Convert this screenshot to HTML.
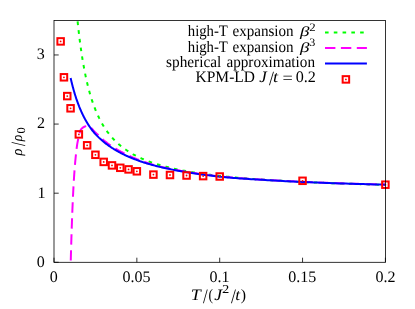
<!DOCTYPE html>
<html><head><meta charset="utf-8"><title>plot</title>
<style>html,body{margin:0;padding:0;background:#fff}body{width:415px;height:309px;overflow:hidden;font-family:"Liberation Serif",serif}</style>
</head><body>
<svg width="415" height="309" viewBox="0 0 415 309" style="display:block;will-change:transform">
<rect width="415" height="309" fill="#ffffff"/>
<defs><clipPath id="c"><rect x="54.00" y="20.40" width="331.40" height="241.90"/></clipPath></defs>
<path d="M54.00,262.30 h4.7 M54.00,193.19 h4.7 M54.00,124.07 h4.7 M54.00,54.96 h4.7 M54.00,262.30 v-4.6 M136.85,262.30 v-4.6 M219.70,262.30 v-4.6 M302.55,262.30 v-4.6 M385.40,262.30 v-4.6" stroke="#000" stroke-width="0.8" fill="none"/>
<g clip-path="url(#c)" fill="none" stroke-width="2">
<path d="M77.61,21.46 L78.64,30.98 L79.67,39.55 L80.69,47.31 L81.72,54.36 L82.75,60.80 L83.78,66.69 L84.81,72.11 L85.83,77.09 L86.86,81.71 L87.89,85.98 L88.92,89.95 L89.95,93.65 L90.97,97.11 L92.00,100.34 L93.03,103.36 L94.06,106.21 L95.09,108.88 L96.11,111.40 L97.14,113.78 L98.17,116.03 L99.20,118.16 L100.23,120.17 L101.25,122.09 L102.28,123.91 L103.31,125.64 L104.34,127.29 L105.37,128.86 L106.39,130.36 L107.42,131.80 L108.45,133.17 L109.48,134.48 L110.51,135.74 L111.53,136.95 L112.56,138.10 L113.59,139.22 L114.62,140.29 L115.65,141.31 L116.67,142.30 L117.70,143.26 L118.73,144.18 L119.76,145.06 L120.79,145.92 L121.81,146.75 L122.84,147.54 L123.87,148.32 L124.90,149.06 L125.93,149.79 L126.95,150.48 L127.98,151.16 L129.01,151.82 L130.04,152.46 L131.07,153.07 L132.09,153.67 L133.12,154.26 L134.15,154.82 L135.18,155.37 L136.21,155.91 L137.23,156.43 L138.26,156.93 L139.29,157.42 L140.32,157.90 L141.35,158.37 L142.37,158.82 L143.40,159.27 L144.43,159.70 L145.46,160.12 L146.49,160.53 L147.51,160.93 L148.54,161.32 L149.57,161.70 L150.60,162.07 L151.63,162.44 L152.66,162.80 L153.68,163.14 L154.71,163.48 L155.74,163.82 L156.77,164.14 L157.80,164.46 L158.82,164.77 L159.85,165.07 L160.88,165.37 L161.91,165.66 L162.94,165.95 L163.96,166.23 L164.99,166.51 L166.02,166.77 L167.05,167.04 L168.08,167.30 L169.10,167.55 L170.13,167.80 L171.16,168.04 L172.19,168.28 L173.22,168.52 L174.24,168.75 L175.27,168.97 L176.30,169.20 L177.33,169.41 L178.36,169.63 L179.38,169.84 L180.41,170.05 L181.44,170.25 L182.47,170.45 L183.50,170.64 L184.52,170.84 L185.55,171.03 L186.58,171.21 L187.61,171.40 L188.64,171.58 L189.66,171.75 L190.69,171.93 L191.72,172.10 L192.75,172.27 L193.78,172.43 L194.80,172.60 L195.83,172.76 L196.86,172.92 L197.89,173.07 L198.92,173.23 L199.94,173.38 L200.97,173.53 L202.00,173.68 L203.03,173.82 L204.06,173.96 L205.08,174.10 L206.11,174.24 L207.14,174.38 L208.17,174.51 L209.20,174.65 L210.22,174.78 L211.25,174.91 L212.28,175.03 L213.31,175.16 L214.34,175.28 L215.36,175.41 L216.39,175.53 L217.42,175.64 L218.45,175.76 L219.48,175.88 L220.50,175.99 L221.53,176.10 L222.56,176.22 L223.59,176.33 L224.62,176.43 L225.64,176.54 L226.67,176.65 L227.70,176.75 L228.73,176.85 L229.76,176.96 L230.78,177.06 L231.81,177.16 L232.84,177.25 L233.87,177.35 L234.90,177.45 L235.93,177.54 L236.95,177.63 L237.98,177.73 L239.01,177.82 L240.04,177.91 L241.07,178.00 L242.09,178.09 L243.12,178.17 L244.15,178.26 L245.18,178.34 L246.21,178.43 L247.23,178.51 L248.26,178.59 L249.29,178.67 L250.32,178.76 L251.35,178.83 L252.37,178.91 L253.40,178.99 L254.43,179.07 L255.46,179.14 L256.49,179.22 L257.51,179.29 L258.54,179.37 L259.57,179.44 L260.60,179.51 L261.63,179.59 L262.65,179.66 L263.68,179.73 L264.71,179.80 L265.74,179.86 L266.77,179.93 L267.79,180.00 L268.82,180.07 L269.85,180.13 L270.88,180.20 L271.91,180.26 L272.93,180.32 L273.96,180.39 L274.99,180.45 L276.02,180.51 L277.05,180.57 L278.07,180.64 L279.10,180.70 L280.13,180.76 L281.16,180.81 L282.19,180.87 L283.21,180.93 L284.24,180.99 L285.27,181.05 L286.30,181.10 L287.33,181.16 L288.35,181.21 L289.38,181.27 L290.41,181.32 L291.44,181.38 L292.47,181.43 L293.49,181.48 L294.52,181.54 L295.55,181.59 L296.58,181.64 L297.61,181.69 L298.63,181.74 L299.66,181.79 L300.69,181.84 L301.72,181.89 L302.75,181.94 L303.77,181.99 L304.80,182.03 L305.83,182.08 L306.86,182.13 L307.89,182.18 L308.91,182.22 L309.94,182.27 L310.97,182.31 L312.00,182.36 L313.03,182.40 L314.06,182.45 L315.08,182.49 L316.11,182.54 L317.14,182.58 L318.17,182.62 L319.20,182.67 L320.22,182.71 L321.25,182.75 L322.28,182.79 L323.31,182.83 L324.34,182.88 L325.36,182.92 L326.39,182.96 L327.42,183.00 L328.45,183.04 L329.48,183.08 L330.50,183.12 L331.53,183.15 L332.56,183.19 L333.59,183.23 L334.62,183.27 L335.64,183.31 L336.67,183.34 L337.70,183.38 L338.73,183.42 L339.76,183.45 L340.78,183.49 L341.81,183.53 L342.84,183.56 L343.87,183.60 L344.90,183.63 L345.92,183.67 L346.95,183.70 L347.98,183.74 L349.01,183.77 L350.04,183.81 L351.06,183.84 L352.09,183.87 L353.12,183.91 L354.15,183.94 L355.18,183.97 L356.20,184.01 L357.23,184.04 L358.26,184.07 L359.29,184.10 L360.32,184.13 L361.34,184.16 L362.37,184.20 L363.40,184.23 L364.43,184.26 L365.46,184.29 L366.48,184.32 L367.51,184.35 L368.54,184.38 L369.57,184.41 L370.60,184.44 L371.62,184.47 L372.65,184.50 L373.68,184.53 L374.71,184.55 L375.74,184.58 L376.76,184.61 L377.79,184.64 L378.82,184.67 L379.85,184.70 L380.88,184.72 L381.90,184.75 L382.93,184.78 L383.96,184.81 L384.99,184.83" stroke="#00ff00" stroke-dasharray="3.6 5.19" stroke-dashoffset="0"/>
<path d="M70.78,260.60 L70.80,259.70 L70.82,258.80 L70.84,257.89 L70.86,256.99 L70.89,256.09 L70.91,255.19 L70.94,254.28 L70.96,253.38 L70.99,252.48 L71.01,251.58 L71.04,250.67 L71.06,249.77 L71.09,248.87 L71.12,247.97 L71.14,247.06 L71.17,246.16 L71.19,245.26 L71.22,244.36 L71.24,243.46 L71.27,242.55 L71.30,241.65 L71.32,240.75 L71.35,239.85 L71.38,238.94 L71.40,238.04 L71.43,237.14 L71.46,236.24 L71.49,235.33 L71.52,234.43 L71.55,233.53 L71.57,232.63 L71.60,231.73 L71.63,230.82 L71.66,229.92 L71.69,229.02 L71.72,228.12 L71.75,227.22 L71.78,226.31 L71.82,225.41 L71.85,224.51 L71.88,223.61 L71.91,222.70 L71.94,221.80 L71.97,220.90 L72.01,220.00 L72.04,219.10 L72.07,218.19 L72.11,217.29 L72.14,216.39 L72.18,215.49 L72.21,214.59 L72.24,213.68 L72.28,212.78 L72.32,211.88 L72.35,210.98 L72.39,210.08 L72.42,209.17 L72.46,208.27 L72.50,207.37 L72.54,206.47 L72.58,205.57 L72.61,204.66 L72.65,203.76 L72.69,202.86 L72.73,201.96 L72.77,201.06 L72.81,200.16 L72.86,199.25 L72.90,198.35 L72.94,197.45 L72.98,196.55 L73.03,195.65 L73.07,194.75 L73.11,193.84 L73.16,192.94 L73.21,192.04 L73.25,191.14 L73.30,190.24 L73.35,189.34 L73.39,188.44 L73.44,187.53 L73.49,186.63 L73.54,185.73 L73.59,184.83 L73.65,183.93 L73.70,183.03 L73.75,182.13 L73.80,181.23 L73.86,180.32 L73.91,179.42 L73.97,178.52 L74.03,177.62 L74.08,176.72 L74.14,175.82 L74.20,174.92 L74.26,174.02 L74.33,173.12 L74.39,172.22 L74.45,171.32 L74.52,170.41 L74.59,169.51 L74.65,168.61 L74.72,167.71 L74.80,166.82 L74.87,165.92 L74.94,165.02 L75.02,164.12 L75.10,163.22 L75.18,162.32 L75.26,161.42 L75.34,160.53 L75.43,159.63 L75.51,158.73 L75.60,157.83 L75.69,156.93 L75.79,156.04 L75.88,155.14 L75.98,154.24 L76.07,153.34 L76.17,152.44 L76.27,151.55 L76.38,150.65 L76.48,149.75 L76.59,148.85 L76.70,147.95 L76.82,147.05 L76.94,146.16 L77.06,145.26 L77.20,144.37 L77.34,143.47 L77.49,142.58 L77.65,141.70 L77.82,140.82 L78.00,139.94 L78.19,139.06 L78.39,138.19 L78.61,137.31 L78.82,136.44 L79.04,135.57 L79.26,134.69 L79.48,133.80 L79.69,132.91 L79.91,132.02 L80.16,131.14 L80.48,130.30 L80.90,129.52 L81.45,128.80 L82.11,128.17 L82.83,127.61 L83.60,127.13 L84.41,126.73 L85.25,126.39 L86.13,126.11 L87.03,125.94 L87.92,125.94 L88.78,126.17 L89.58,126.60 L90.33,127.16 L91.02,127.77 L91.66,128.42 L92.27,129.09 L92.86,129.76 L93.45,130.43 L94.06,131.09 L94.68,131.74 L95.33,132.37 L95.98,132.99 L96.64,133.61 L97.30,134.23 L97.96,134.85 L98.61,135.48 L99.26,136.11 L99.91,136.74 L100.56,137.37 L101.21,137.99 L101.87,138.61 L102.53,139.21 L103.21,139.81 L103.90,140.40 L104.59,140.98 L105.29,141.55 L106.00,142.11 L106.71,142.66 L107.43,143.20 L108.16,143.74 L108.89,144.27 L109.63,144.79 L110.37,145.30 L111.12,145.80 L111.87,146.30 L112.63,146.80 L113.39,147.28 L114.15,147.76 L114.92,148.24 L115.69,148.71 L116.47,149.17 L117.25,149.63 L118.03,150.08 L118.82,150.52 L119.61,150.95 L120.40,151.38 L121.20,151.81 L122.00,152.23 L122.80,152.65 L123.60,153.06 L124.41,153.47 L125.21,153.87 L126.02,154.28 L126.83,154.67 L127.64,155.07 L128.46,155.46 L129.27,155.84 L130.09,156.22 L130.92,156.59 L131.74,156.96 L132.57,157.32 L133.39,157.68 L134.23,158.04 L135.06,158.39 L135.89,158.73 L136.73,159.07 L137.57,159.41 L138.40,159.74 L139.25,160.07 L140.09,160.39 L140.93,160.71 L141.78,161.03 L142.63,161.34 L143.47,161.65 L144.33,161.95 L145.18,162.24 L146.03,162.53 L146.89,162.82 L147.75,163.10 L148.61,163.37 L149.47,163.64 L150.34,163.90 L151.20,164.16 L152.07,164.41 L152.93,164.66 L153.80,164.90 L154.67,165.14 L155.55,165.38 L156.42,165.61 L157.29,165.84 L158.17,166.07 L159.04,166.29 L159.92,166.51 L160.79,166.72 L161.67,166.94 L162.55,167.14 L163.43,167.35 L164.31,167.55 L165.19,167.75 L166.07,167.95 L166.95,168.15 L167.83,168.34 L168.71,168.53 L169.60,168.71 L170.48,168.89 L171.37,169.07 L172.25,169.25 L173.14,169.43 L174.02,169.60 L174.91,169.77 L175.80,169.94 L176.68,170.11 L177.57,170.27 L178.46,170.43 L179.35,170.59 L180.24,170.75 L181.12,170.91 L182.01,171.06 L182.90,171.22 L183.79,171.37 L184.68,171.52 L185.57,171.67 L186.46,171.81 L187.35,171.96 L188.25,172.11 L189.14,172.25 L190.03,172.39 L190.92,172.53 L191.81,172.68 L192.70,172.82 L193.59,172.95 L194.49,173.09 L195.38,173.23 L196.27,173.36 L197.16,173.50 L198.06,173.63 L198.95,173.76 L199.84,173.89 L200.74,174.02 L201.63,174.15 L202.52,174.28 L203.42,174.40 L204.31,174.53 L205.21,174.65 L206.10,174.77 L207.00,174.89 L207.89,175.01 L208.79,175.13 L209.68,175.24 L210.58,175.35 L211.47,175.47 L212.37,175.58 L213.26,175.69 L214.16,175.79 L215.06,175.90 L215.95,176.00 L216.85,176.11 L217.75,176.21 L218.65,176.31 L219.54,176.40 L220.44,176.50 L221.34,176.59 L222.24,176.68 L223.13,176.77 L224.03,176.86 L224.93,176.94 L225.83,177.03 L226.73,177.11 L227.63,177.19 L228.53,177.27 L229.43,177.35 L230.33,177.42 L231.23,177.50 L232.13,177.57 L233.03,177.65 L233.92,177.72 L234.82,177.79 L235.72,177.86 L236.62,177.93 L237.52,178.00 L238.42,178.07 L239.33,178.13 L240.23,178.20 L241.13,178.27 L242.03,178.33 L242.93,178.39 L243.83,178.46 L244.73,178.52 L245.63,178.58 L246.53,178.64 L247.43,178.70 L248.33,178.76 L249.23,178.82 L250.13,178.88 L251.03,178.94 L251.93,179.00 L252.83,179.06 L253.73,179.11 L254.64,179.17 L255.54,179.23 L256.44,179.29 L257.34,179.34 L258.24,179.40 L259.14,179.45 L260.04,179.51 L260.94,179.57 L261.84,179.62 L262.74,179.68 L263.64,179.73 L264.55,179.79 L265.45,179.84 L266.35,179.90 L267.25,179.95 L268.15,180.01 L269.05,180.06 L269.95,180.12 L270.85,180.17 L271.75,180.22 L272.66,180.27 L273.56,180.33 L274.46,180.38 L275.36,180.43 L276.26,180.48 L277.16,180.53 L278.06,180.58 L278.96,180.63 L279.87,180.68 L280.77,180.73 L281.67,180.78 L282.57,180.82 L283.47,180.87 L284.37,180.92 L285.27,180.97 L286.18,181.01 L287.08,181.06 L287.98,181.11 L288.88,181.15 L289.78,181.20 L290.68,181.24 L291.58,181.29 L292.49,181.33 L293.39,181.37 L294.29,181.42 L295.19,181.46 L296.09,181.51 L296.99,181.55 L297.90,181.59 L298.80,181.63 L299.70,181.67 L300.60,181.72 L301.50,181.76 L302.40,181.80 L303.31,181.84 L304.21,181.88 L305.11,181.92 L306.01,181.96 L306.91,182.00 L307.82,182.04 L308.72,182.08 L309.62,182.12 L310.52,182.16 L311.42,182.19 L312.32,182.23 L313.23,182.27 L314.13,182.31 L315.03,182.34 L315.93,182.38 L316.83,182.42 L317.74,182.46 L318.64,182.49 L319.54,182.53 L320.44,182.56 L321.34,182.60 L322.25,182.63 L323.15,182.67 L324.05,182.70 L324.95,182.74 L325.85,182.77 L326.76,182.81 L327.66,182.84 L328.56,182.88 L329.46,182.91 L330.36,182.94 L331.27,182.97 L332.17,183.01 L333.07,183.04 L333.97,183.07 L334.87,183.10 L335.78,183.14 L336.68,183.17 L337.58,183.20 L338.48,183.23 L339.39,183.26 L340.29,183.29 L341.19,183.32 L342.09,183.35 L342.99,183.38 L343.90,183.41 L344.80,183.44 L345.70,183.47 L346.60,183.50 L347.51,183.53 L348.41,183.56 L349.31,183.59 L350.21,183.62 L351.11,183.65 L352.02,183.67 L352.92,183.70 L353.82,183.73 L354.72,183.76 L355.63,183.79 L356.53,183.81 L357.43,183.84 L358.33,183.87 L359.23,183.89 L360.14,183.92 L361.04,183.95 L361.94,183.97 L362.84,184.00 L363.75,184.03 L364.65,184.05 L365.55,184.08 L366.45,184.10 L367.36,184.13 L368.26,184.15 L369.16,184.18 L370.06,184.20 L370.96,184.23 L371.87,184.25 L372.77,184.28 L373.67,184.30 L374.57,184.33 L375.48,184.35 L376.38,184.37 L377.28,184.40 L378.18,184.42 L379.09,184.44 L379.99,184.47 L380.89,184.49 L381.79,184.51 L382.70,184.54 L383.60,184.56 L384.50,184.58 L385.40,184.60" stroke="#ff00ff" stroke-dasharray="10.4 5.58" stroke-dashoffset="0"/>
<path d="M70.64,78.04 L70.83,78.89 L71.03,79.74 L71.22,80.58 L71.42,81.42 L71.63,82.26 L71.83,83.10 L72.04,83.93 L72.25,84.76 L72.46,85.59 L72.67,86.41 L72.89,87.23 L73.11,88.05 L73.33,88.86 L73.56,89.67 L73.78,90.48 L74.01,91.28 L74.25,92.08 L74.48,92.88 L74.72,93.67 L74.96,94.46 L75.20,95.25 L75.45,96.03 L75.70,96.81 L75.95,97.59 L76.21,98.36 L76.46,99.13 L76.73,99.90 L76.99,100.66 L77.26,101.42 L77.53,102.17 L77.80,102.92 L78.08,103.67 L78.36,104.41 L78.64,105.15 L78.93,105.88 L79.21,106.62 L79.51,107.34 L79.80,108.07 L80.10,108.79 L80.41,109.50 L80.71,110.21 L81.02,110.92 L81.34,111.63 L81.66,112.33 L81.98,113.02 L82.30,113.71 L82.63,114.40 L82.96,115.09 L83.30,115.77 L83.64,116.44 L83.98,117.11 L84.33,117.78 L84.69,118.44 L85.04,119.10 L85.40,119.76 L85.77,120.41 L86.14,121.06 L86.51,121.70 L86.89,122.34 L87.27,122.98 L87.66,123.61 L88.05,124.23 L88.44,124.86 L88.84,125.48 L89.25,126.09 L89.66,126.70 L90.07,127.31 L90.49,127.91 L90.91,128.51 L91.34,129.10 L91.78,129.69 L92.22,130.28 L92.66,130.85 L93.11,131.42 L93.56,131.97 L94.02,132.51 L94.49,133.05 L94.96,133.58 L95.43,134.10 L95.92,134.61 L96.40,135.12 L96.90,135.62 L97.39,136.12 L97.90,136.62 L98.41,137.11 L98.92,137.61 L99.45,138.10 L99.97,138.60 L100.51,139.10 L101.05,139.59 L101.60,140.08 L102.15,140.56 L102.71,141.04 L103.27,141.52 L103.85,141.99 L104.43,142.46 L105.01,142.92 L105.60,143.38 L106.20,143.84 L106.81,144.29 L107.42,144.75 L108.04,145.19 L108.67,145.64 L109.31,146.08 L109.95,146.52 L110.60,146.96 L111.26,147.39 L111.92,147.83 L112.60,148.26 L113.28,148.69 L113.96,149.12 L114.66,149.54 L115.37,149.97 L116.08,150.39 L116.80,150.81 L117.53,151.23 L118.27,151.65 L119.02,152.06 L119.77,152.46 L120.53,152.87 L121.31,153.27 L122.09,153.67 L122.88,154.07 L123.68,154.46 L124.49,154.85 L125.31,155.24 L126.14,155.63 L126.98,156.01 L127.82,156.39 L128.68,156.76 L129.55,157.13 L130.43,157.50 L131.31,157.87 L132.21,158.24 L133.12,158.60 L134.04,158.97 L134.97,159.33 L135.91,159.68 L136.86,160.04 L137.83,160.39 L138.80,160.74 L139.79,161.09 L140.78,161.44 L141.79,161.78 L142.81,162.11 L143.84,162.45 L144.89,162.78 L145.94,163.11 L147.01,163.44 L148.09,163.76 L149.18,164.08 L150.29,164.40 L151.41,164.72 L152.54,165.03 L153.68,165.34 L154.84,165.65 L156.01,165.95 L157.20,166.26 L158.40,166.56 L159.61,166.85 L160.84,167.14 L162.08,167.43 L163.34,167.72 L164.61,168.00 L165.89,168.28 L167.19,168.56 L168.51,168.83 L169.84,169.10 L171.18,169.37 L172.54,169.64 L173.92,169.91 L175.31,170.17 L176.72,170.43 L178.15,170.69 L179.59,170.94 L181.05,171.20 L182.53,171.45 L184.02,171.70 L185.53,171.95 L187.06,172.20 L188.60,172.45 L190.17,172.70 L191.75,172.95 L193.35,173.20 L194.97,173.45 L196.61,173.69 L198.26,173.94 L199.94,174.18 L201.64,174.42 L203.35,174.66 L205.09,174.90 L206.84,175.14 L208.62,175.37 L210.41,175.60 L212.23,175.82 L214.07,176.04 L215.93,176.26 L217.81,176.47 L219.71,176.67 L221.64,176.87 L223.59,177.06 L225.56,177.24 L227.55,177.42 L229.57,177.60 L231.61,177.77 L233.67,177.93 L235.76,178.09 L237.87,178.25 L240.00,178.41 L242.17,178.56 L244.35,178.71 L246.56,178.86 L248.80,179.01 L251.06,179.15 L253.35,179.30 L255.67,179.44 L258.01,179.58 L260.38,179.73 L262.78,179.87 L265.21,180.02 L267.66,180.16 L270.14,180.31 L272.65,180.45 L275.19,180.59 L277.76,180.74 L280.36,180.87 L282.99,181.01 L285.65,181.15 L288.34,181.28 L291.07,181.42 L293.82,181.55 L296.61,181.68 L299.43,181.81 L302.28,181.94 L305.16,182.07 L308.08,182.19 L311.03,182.32 L314.02,182.44 L317.04,182.56 L320.10,182.68 L323.19,182.80 L326.31,182.92 L329.48,183.04 L332.68,183.15 L335.92,183.26 L339.19,183.38 L342.51,183.49 L345.86,183.60 L349.25,183.70 L352.68,183.81 L356.15,183.91 L359.66,184.02 L363.21,184.12 L366.80,184.22 L370.44,184.32 L374.11,184.42 L377.83,184.51 L381.59,184.61 L385.40,184.70" stroke="#0000ff"/>
</g>
<rect x="57.38" y="38.15" width="6.50" height="6.50" fill="none" stroke="#ff0000" stroke-width="2"/><circle cx="60.63" cy="41.40" r="0.9" fill="#ff0000"/>
<rect x="60.69" y="74.05" width="6.50" height="6.50" fill="none" stroke="#ff0000" stroke-width="2"/><circle cx="63.94" cy="77.30" r="0.9" fill="#ff0000"/>
<rect x="64.01" y="92.85" width="6.50" height="6.50" fill="none" stroke="#ff0000" stroke-width="2"/><circle cx="67.26" cy="96.10" r="0.9" fill="#ff0000"/>
<rect x="67.32" y="105.05" width="6.50" height="6.50" fill="none" stroke="#ff0000" stroke-width="2"/><circle cx="70.57" cy="108.30" r="0.9" fill="#ff0000"/>
<rect x="75.60" y="131.15" width="6.50" height="6.50" fill="none" stroke="#ff0000" stroke-width="2"/><circle cx="78.85" cy="134.40" r="0.9" fill="#ff0000"/>
<rect x="83.89" y="142.05" width="6.50" height="6.50" fill="none" stroke="#ff0000" stroke-width="2"/><circle cx="87.14" cy="145.30" r="0.9" fill="#ff0000"/>
<rect x="92.17" y="151.55" width="6.50" height="6.50" fill="none" stroke="#ff0000" stroke-width="2"/><circle cx="95.42" cy="154.80" r="0.9" fill="#ff0000"/>
<rect x="100.46" y="158.65" width="6.50" height="6.50" fill="none" stroke="#ff0000" stroke-width="2"/><circle cx="103.71" cy="161.90" r="0.9" fill="#ff0000"/>
<rect x="108.75" y="162.15" width="6.50" height="6.50" fill="none" stroke="#ff0000" stroke-width="2"/><circle cx="112.00" cy="165.40" r="0.9" fill="#ff0000"/>
<rect x="117.03" y="164.55" width="6.50" height="6.50" fill="none" stroke="#ff0000" stroke-width="2"/><circle cx="120.28" cy="167.80" r="0.9" fill="#ff0000"/>
<rect x="125.31" y="166.15" width="6.50" height="6.50" fill="none" stroke="#ff0000" stroke-width="2"/><circle cx="128.56" cy="169.40" r="0.9" fill="#ff0000"/>
<rect x="133.60" y="168.05" width="6.50" height="6.50" fill="none" stroke="#ff0000" stroke-width="2"/><circle cx="136.85" cy="171.30" r="0.9" fill="#ff0000"/>
<rect x="150.17" y="171.35" width="6.50" height="6.50" fill="none" stroke="#ff0000" stroke-width="2"/><circle cx="153.42" cy="174.60" r="0.9" fill="#ff0000"/>
<rect x="166.74" y="171.75" width="6.50" height="6.50" fill="none" stroke="#ff0000" stroke-width="2"/><circle cx="169.99" cy="175.00" r="0.9" fill="#ff0000"/>
<rect x="183.31" y="172.25" width="6.50" height="6.50" fill="none" stroke="#ff0000" stroke-width="2"/><circle cx="186.56" cy="175.50" r="0.9" fill="#ff0000"/>
<rect x="199.88" y="172.85" width="6.50" height="6.50" fill="none" stroke="#ff0000" stroke-width="2"/><circle cx="203.13" cy="176.10" r="0.9" fill="#ff0000"/>
<rect x="216.45" y="173.25" width="6.50" height="6.50" fill="none" stroke="#ff0000" stroke-width="2"/><circle cx="219.70" cy="176.50" r="0.9" fill="#ff0000"/>
<rect x="299.30" y="177.55" width="6.50" height="6.50" fill="none" stroke="#ff0000" stroke-width="2"/><circle cx="302.55" cy="180.80" r="0.9" fill="#ff0000"/>
<rect x="382.15" y="181.45" width="6.50" height="6.50" fill="none" stroke="#ff0000" stroke-width="2"/><circle cx="385.40" cy="184.70" r="0.9" fill="#ff0000"/>
<rect x="54.00" y="20.40" width="331.40" height="241.90" fill="none" stroke="#000" stroke-width="0.8"/>
<g fill="none" stroke-width="2">
<path d="M325.0,32.4 H366.9" stroke="#00ff00" stroke-dasharray="3.6 5.18"/>
<path d="M325.0,48 H366.9" stroke="#ff00ff" stroke-dasharray="10.4 5.5"/>
<path d="M325.0,63.4 H366.9" stroke="#0000ff"/>
</g>
<rect x="342.65" y="76.15" width="6.50" height="6.50" fill="none" stroke="#ff0000" stroke-width="2"/><circle cx="345.90" cy="79.40" r="0.9" fill="#ff0000"/>
<g font-family="'Liberation Serif', serif" fill="#000" text-rendering="geometricPrecision">
<text transform="translate(36.65,266.70) scale(1.0000,1.0000)" font-size="16" >0</text>
<text transform="translate(37.48,197.59) scale(1.0000,1.0000)" font-size="16" >1</text>
<text transform="translate(37.00,128.47) scale(1.0000,1.0000)" font-size="16" >2</text>
<text transform="translate(36.69,59.36) scale(1.0000,1.0000)" font-size="16" >3</text>
<text transform="translate(49.65,281.60) scale(1.0000,1.0000)" font-size="16" >0</text>
<text transform="translate(122.44,281.60) scale(1.0000,1.0000)" font-size="16" >0.05</text>
<text transform="translate(209.57,281.60) scale(1.0000,1.0000)" font-size="16" >0.1</text>
<text transform="translate(288.19,281.60) scale(1.0000,1.0000)" font-size="16" >0.15</text>
<text transform="translate(375.38,281.60) scale(1.0000,1.0000)" font-size="16" >0.2</text>
<text transform="translate(187.78,36.30) scale(0.9206,1.0000)" font-size="16" >high-T</text>
<text transform="translate(232.47,36.30) scale(0.9431,1.0000)" font-size="16" >expansion</text>
<text transform="translate(300.00,36.40) scale(1.1858,0.8600)" font-size="16" font-style="italic">β</text>
<text transform="translate(187.78,51.70) scale(0.9206,1.0000)" font-size="16" >high-T</text>
<text transform="translate(232.47,51.70) scale(0.9431,1.0000)" font-size="16" >expansion</text>
<text transform="translate(300.00,51.80) scale(1.1858,0.8600)" font-size="16" font-style="italic">β</text>
<text transform="translate(309.21,30.70) scale(1.1185,1.0000)" font-size="11.5" >2</text>
<text transform="translate(309.30,46.20) scale(1.0517,1.0000)" font-size="11.5" >3</text>
<text transform="translate(166.07,67.10) scale(0.9565,1.0000)" font-size="16" >spherical</text>
<text transform="translate(226.42,67.10) scale(0.9493,1.0000)" font-size="16" >approximation</text>
<text transform="translate(195.59,82.30) scale(0.9671,1.0000)" font-size="16" >KPM-LD</text>
<text transform="translate(259.15,82.30) scale(1.0552,1.0000)" font-size="16" font-style="italic">J</text>
<text transform="translate(268.90,84.95) scale(1.1023,1.2500)" font-size="16" >/</text>
<text transform="translate(272.99,82.30) scale(1.1466,1.0000)" font-size="16" font-style="italic">t</text>
<text transform="translate(282.40,83.20) scale(1.1386,1.0000)" font-size="16" >=</text>
<text transform="translate(295.75,82.30) scale(1.0078,1.0000)" font-size="16" >0.2</text>
<text transform="translate(190.68,300.30) scale(1.1217,1.0000)" font-size="16" font-style="italic">T</text>
<text transform="translate(203.00,302.95) scale(1.0554,1.2700)" font-size="16" >/</text>
<text transform="translate(208.38,300.30) scale(0.8434,1.0000)" font-size="16" >(</text>
<text transform="translate(214.34,300.30) scale(1.0969,1.0000)" font-size="16" font-style="italic">J</text>
<text transform="translate(222.10,293.30) scale(1.2163,1.0000)" font-size="12" >2</text>
<text transform="translate(230.90,302.95) scale(1.1023,1.2700)" font-size="16" >/</text>
<text transform="translate(235.23,300.30) scale(1.0878,1.0000)" font-size="16" font-style="italic">t</text>
<text transform="translate(240.84,300.30) scale(0.9936,1.0000)" font-size="16" >)</text>
<g transform="translate(21.6,156.0) rotate(-90)">
<text transform="translate(0.43,0.00) scale(0.9485,1.0000)" font-size="15" font-style="italic">ρ</text>
<text transform="translate(10.00,3.10) scale(0.9147,1.2700)" font-size="16" >/</text>
<text transform="translate(14.82,0.00) scale(0.9054,1.0000)" font-size="15" font-style="italic">ρ</text>
<text transform="translate(22.60,3.00) scale(1.0361,1.0000)" font-size="12" >0</text>
</g>
</g>
</svg>
</body></html>
